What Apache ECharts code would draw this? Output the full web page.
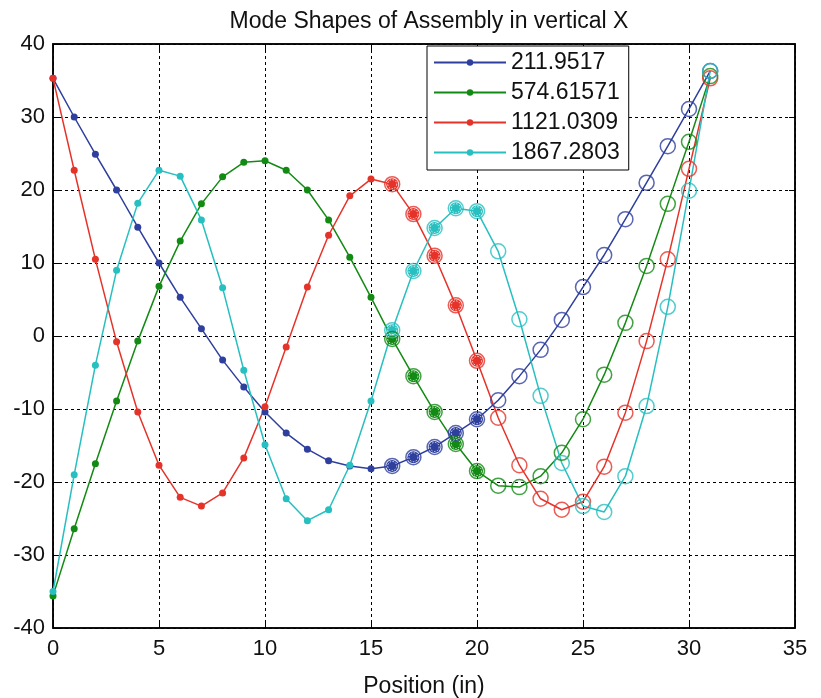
<!DOCTYPE html>
<html>
<head>
<meta charset="utf-8">
<script src="https://cdn.jsdelivr.net/npm/echarts@6/dist/echarts.min.js"></script>
<style>
  html, body { margin: 0; padding: 0; background: #fff; }
  #chart { width: 821px; height: 698px; }
</style>
</head>
<body>
<div id="chart"></div>
<script>
// Node positions along the assembly (in)
const positions = [0,1,2,3,4,5,6,7,8,9,10,11,12,13,14,15,16,17,18,19,20,21,22,23,24,25,26,27,28,29,30,31];

// Mode names (natural frequencies)
const modeNames = ['211.9517', '574.61571', '1121.0309', '1867.2803'];
const modeColors = ['#2E3F9E', '#138A13', '#E6332A', '#27BFC0'];

// Mode shape values in vertical X
const mode1 = [35.3,30.0,24.9,20.0,14.9,10.0,5.3,1.0,-3.3,-7.0,-10.4,-13.3,-15.5,-17.1,-17.8,-18.2,-17.8,-16.6,-15.2,-13.3,-11.4,-8.8,-5.5,-1.9,2.2,6.7,11.1,16.0,21.0,26.0,31.1,36.3];
const mode2 = [-35.6,-26.4,-17.5,-8.9,-0.7,6.8,13.0,18.1,21.8,23.8,24.0,22.7,20.0,15.9,10.8,5.3,-0.4,-5.5,-10.4,-14.8,-18.5,-20.5,-20.7,-19.2,-16.0,-11.4,-5.3,1.8,9.6,18.1,26.6,35.6];
const mode3 = [35.3,22.7,10.5,-0.8,-10.4,-17.7,-22.1,-23.3,-21.5,-16.7,-9.7,-1.5,6.7,13.8,19.2,21.5,20.8,16.7,11.0,4.2,-3.4,-11.2,-17.7,-22.3,-23.8,-22.7,-17.9,-10.5,-0.7,10.5,22.9,35.3];
const mode4 = [-35.0,-19.0,-4.0,9.0,18.2,22.7,21.9,15.9,6.6,-4.7,-14.9,-22.3,-25.3,-23.8,-17.7,-8.9,0.8,8.9,14.8,17.5,17.1,11.6,2.3,-8.2,-17.4,-23.3,-24.1,-19.2,-9.6,4.0,19.9,36.3];
const modes = [mode1, mode2, mode3, mode4];

// Index ranges for the marker styles
const dotEnd = 20;      // filled dots on nodes 0..20
const ringStart = 16;   // open rings on nodes 16..31

const xTicks = [0,5,10,15,20,25,30,35];
const yTicks = [-40,-30,-20,-10,0,10,20,30,40];

const font = 'Liberation Sans, Arial, Helvetica, sans-serif';

const series = [];
modes.forEach((vals, k) => {
  const color = modeColors[k];
  // line with filled dots
  series.push({
    name: modeNames[k],
    type: 'line',
    z: 2,
    symbol: 'circle',
    symbolSize: 7,
    lineStyle: { color: color, width: 1.5 },
    itemStyle: { color: color },
    data: positions.map((x, i) => {
      const item = { value: [x, vals[i]] };
      if (i > dotEnd) item.symbol = 'none';
      else if (i >= ringStart) item.symbolSize = 12;
      return item;
    }),
    animation: false
  });
  // open rings
  series.push({
    name: modeNames[k] + ' ring',
    type: 'scatter',
    z: 3,
    symbol: 'circle',
    symbolSize: 15,
    itemStyle: { color: 'rgba(0,0,0,0)', borderColor: color, borderWidth: 1.5 },
    data: positions.map((x, i) => [x, vals[i]]).filter((p, i) => i >= ringStart),
    silent: true,
    animation: false
  });
  // dotted white ring inside the overlapping markers
  series.push({
    name: modeNames[k] + ' inner',
    type: 'scatter',
    z: 4,
    symbol: 'circle',
    symbolSize: 9,
    itemStyle: { color: 'rgba(0,0,0,0)', borderColor: '#fff', borderWidth: 1, borderType: [1.5, 1.5] },
    data: positions.map((x, i) => [x, vals[i]]).filter((p, i) => i >= ringStart && i <= dotEnd),
    silent: true,
    animation: false
  });
});

const tickAxis = {
  axisLine: { show: true, onZero: false, lineStyle: { color: '#000', width: 1.5 } },
  axisTick: { show: true, inside: true, length: 6, lineStyle: { color: '#000' } }
};

const chart = echarts.init(document.getElementById('chart'), null, { renderer: 'canvas' });
chart.setOption({
  backgroundColor: '#fff',
  animation: false,
  title: {
    text: 'Mode Shapes of Assembly in vertical X',
    left: 424,
    textAlign: 'center',
    top: 5,
    textStyle: { fontFamily: font, fontSize: 23, fontWeight: 'normal', color: '#111' }
  },
  legend: {
    data: modeNames,
    orient: 'vertical',
    left: 427,
    top: 46,
    itemWidth: 72,
    itemHeight: 8,
    itemGap: 7,
    padding: [5, 9, 6, 6],
    backgroundColor: '#fff',
    borderColor: '#000',
    borderWidth: 1,
    borderRadius: 0,
    textStyle: { fontFamily: font, fontSize: 23, color: '#111' }
  },
  grid: {
    left: 53, right: 26, top: 44, bottom: 70,
    outerBoundsMode: 'none',
    show: true, borderColor: '#000', borderWidth: 1.5, backgroundColor: 'transparent'
  },
  xAxis: [Object.assign({
    type: 'value', min: 0, max: 35, interval: 5,
    name: 'Position (in)', nameLocation: 'middle', nameGap: 47,
    nameTextStyle: { fontFamily: font, fontSize: 23, color: '#111' },
    axisLabel: { fontFamily: font, fontSize: 22, color: '#111', margin: 10, formatter: v => xTicks.includes(v) ? String(v) : '' },
    splitLine: { show: true, lineStyle: { color: '#000', type: [3, 3], width: 1 } }
  }, tickAxis), Object.assign({
    type: 'value', min: 0, max: 35, interval: 5, position: 'top',
    axisLabel: { show: false }, splitLine: { show: false }
  }, tickAxis)],
  yAxis: [Object.assign({
    type: 'value', min: -40, max: 40, interval: 10,
    axisLabel: { fontFamily: font, fontSize: 22, color: '#111', margin: 8, formatter: v => yTicks.includes(v) ? String(v) : '' },
    splitLine: { show: true, lineStyle: { color: '#000', type: [3, 3], width: 1 } }
  }, tickAxis), Object.assign({
    type: 'value', min: -40, max: 40, interval: 10, position: 'right',
    axisLabel: { show: false }, splitLine: { show: false }
  }, tickAxis)],
  series: series
});
</script>
</body>
</html>
